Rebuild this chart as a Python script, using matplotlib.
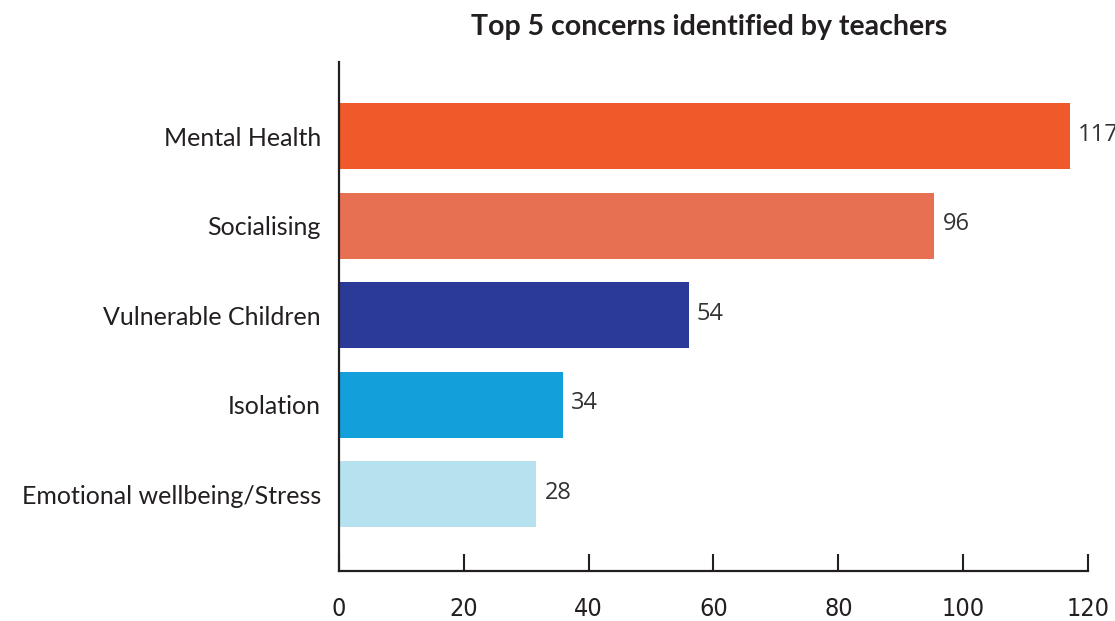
import matplotlib.pyplot as plt

# data (bottom to top)
categories = ["Emotional wellbeing/Stress", "Isolation", "Vulnerable Children",
              "Socialising", "Mental Health"]
bar_lengths = [31.6, 35.9, 56.0, 95.4, 117.1]
value_labels = ["28", "34", "54", "96", "117"]
colors = ["#B5E2EE", "#139FDA", "#2B3A96", "#E87052", "#F05A2B"]
xticks = [0, 20, 40, 60, 80, 100, 120]

ink = "#231F20"

fig = plt.figure(figsize=(11.15, 6.21), dpi=100)
ax = fig.add_axes([0.304, 0.0805, 0.6718, 0.8195])

ypos = list(range(len(categories)))
ax.barh(ypos, bar_lengths, height=0.74, color=colors)

for y, v, lab in zip(ypos, bar_lengths, value_labels):
    ax.annotate(lab, (v, y), xytext=(6, 1), textcoords="offset points",
                ha="left", va="center", fontsize=17, color="#333333",
                family=["Open Sans", "DejaVu Sans"], annotation_clip=False)

ax.set_xlim(0, 120)
ax.set_ylim(-0.86, 4.83)
ax.set_yticks(ypos)
ax.set_yticklabels(categories, fontsize=18, family="Lato", color=ink)
ax.set_xticks(xticks)
ax.set_xticklabels([str(t) for t in xticks], fontsize=18, family="DejaVu Sans",
                   fontstretch="condensed", color=ink)

ax.tick_params(axis="y", length=0, pad=13)
ax.tick_params(axis="x", direction="in", length=12, width=1.5, color=ink, pad=19)

for s in ["top", "right"]:
    ax.spines[s].set_visible(False)
for s in ["left", "bottom"]:
    ax.spines[s].set_linewidth(1.6)
    ax.spines[s].set_color(ink)

fig.text(0.636, 0.956, "Top 5 concerns identified by teachers", ha="center",
         va="center", fontsize=20.5, fontweight="bold", family="Lato", color=ink)

fig.savefig("out.png", dpi=100)
